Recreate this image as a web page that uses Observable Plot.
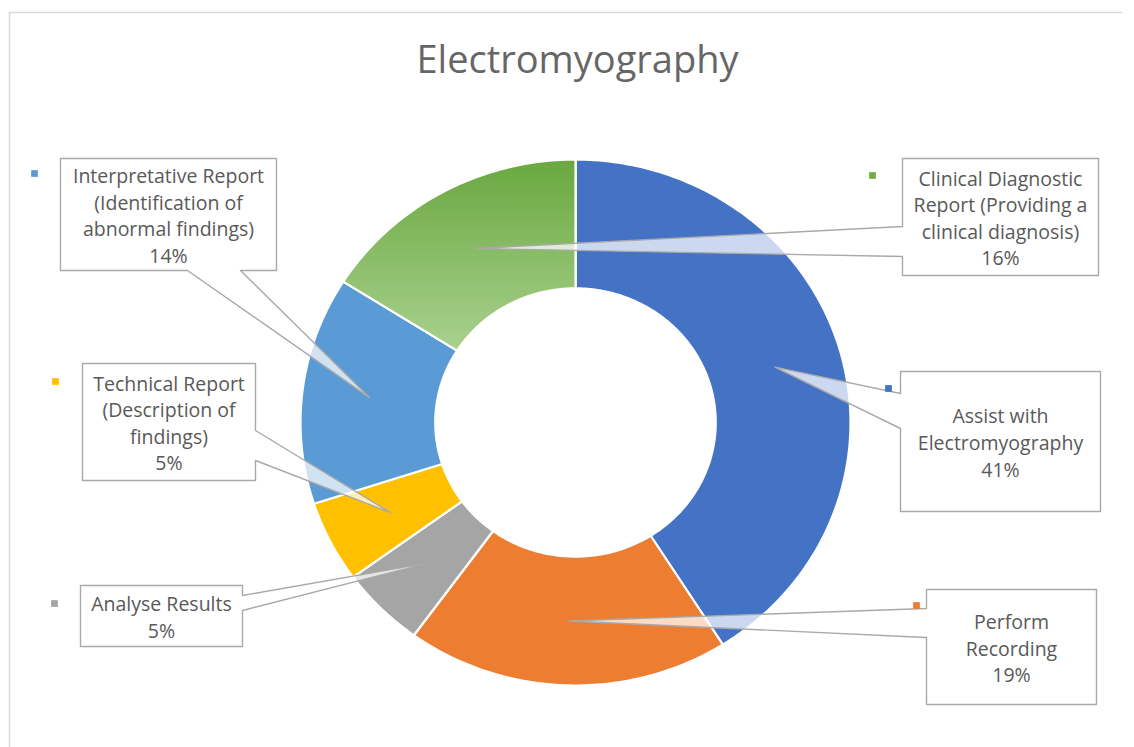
<!DOCTYPE html>
<html>
<head>
<meta charset="utf-8">
<script src="https://cdn.jsdelivr.net/npm/d3@7"></script>
<script src="https://cdn.jsdelivr.net/npm/@observablehq/plot@0.6"></script>
<style>
  html, body { margin: 0; padding: 0; background: #fff; }
  #chart svg { display: block; }
</style>
</head>
<body>
<div id="chart"></div>
<script>
// ---- Data ----
const chartTitle = "Electromyography";
const categories = [
  "Assist with Electromyography",
  "Perform Recording",
  "Analyse Results",
  "Technical Report",
  "Interpretative Report",
  "Clinical Diagnostic Report"
];
const shares = [41, 19, 5, 5, 14, 16];
const labelLines = [
  ["Assist with", "Electromyography"],
  ["Perform", "Recording"],
  ["Analyse Results"],
  ["Technical Report", "(Description of", "findings)"],
  ["Interpretative Report", "(Identification of", "abnormal findings)"],
  ["Clinical Diagnostic", "Report (Providing a", "clinical diagnosis)"]
];

// ---- Styles ----
const sliceColors = ["#4472C4", "#ED7D31", "#A5A5A5", "#FFC000", "#5B9BD5", "#70AD47"];
const fadedSlice = "Clinical Diagnostic Report";

// ---- Layout (pixels) ----
const W = 1134, H = 747;
const cx = 575, cy = 422, rx = 275, ry = 263, hole = 0.51;
// Callout boxes: [x1, y1, x2, y2], the edge the pointer leaves from,
// the span of the pointer base along that edge, and the legend key position.
const callouts = [
  {box: [900, 371, 1100, 511], edge: "left",   tail: [393, 428], key: [888, 388]},
  {box: [926, 589, 1096, 704], edge: "left",   tail: [608, 637], key: [916, 605]},
  {box: [80, 585, 242, 646],   edge: "right",  tail: [595, 610], key: [54, 603]},
  {box: [82, 363, 255, 480],   edge: "right",  tail: [430, 460], key: [55, 381]},
  {box: [60, 158, 276, 270],   edge: "bottom", tail: [187, 240], key: [34, 173]},
  {box: [902, 158, 1098, 275], edge: "left",   tail: [226, 256], key: [872, 175]}
];

// pixel -> data units of the donut's x/y scales
const X = px => (px - cx) / rx;
const Y = py => (cy - py) / ry;

// ---- Slices ----
const arcs = d3.pie().sort(null).startAngle(0).endAngle(2 * Math.PI)(shares);
const slicePts = [];
const anchors = [];
arcs.forEach((a, i) => {
  const cat = categories[i];
  const n = Math.max(6, Math.ceil((a.endAngle - a.startAngle) / (2 * Math.PI) * 360));
  for (let k = 0; k <= n; k++) {
    const t = a.startAngle + (a.endAngle - a.startAngle) * k / n;
    slicePts.push({cat, x: Math.sin(t), y: Math.cos(t)});
  }
  for (let k = n; k >= 0; k--) {
    const t = a.startAngle + (a.endAngle - a.startAngle) * k / n;
    slicePts.push({cat, x: hole * Math.sin(t), y: hole * Math.cos(t)});
  }
  const mid = (a.startAngle + a.endAngle) / 2, rm = (1 + hole) / 2;
  anchors.push({x: rm * Math.sin(mid), y: rm * Math.cos(mid)});
});

// ---- Callout outlines (box with a pointer into the slice) ----
const calloutPts = [];
callouts.forEach((c, i) => {
  const cat = categories[i];
  const [x1, y1, x2, y2] = c.box;
  const [t1, t2] = c.tail;
  const p = (px, py) => calloutPts.push({cat, x: X(px), y: Y(py)});
  const a = () => calloutPts.push({cat, x: anchors[i].x, y: anchors[i].y});
  p(x1, y1); p(x2, y1);
  if (c.edge === "right") { p(x2, t1); a(); p(x2, t2); }
  p(x2, y2);
  if (c.edge === "bottom") { p(t2, y2); a(); p(t1, y2); }
  p(x1, y2);
  if (c.edge === "left") { p(x1, t2); a(); p(x1, t1); }
});

const labels = callouts.map((c, i) => ({
  cat: categories[i],
  x: X((c.box[0] + c.box[2]) / 2),
  y: Y((c.box[1] + c.box[3]) / 2),
  text: labelLines[i].concat([shares[i] + "%"]).join("\n")
}));
const keys = callouts.map((c, i) => ({cat: categories[i], x: X(c.key[0]), y: Y(c.key[1])}));

const chart = Plot.plot({
  width: W,
  height: H,
  margin: 0,
  x: {domain: [-1, 1], range: [cx - rx, cx + rx], axis: null},
  y: {domain: [-1, 1], range: [cy + ry, cy - ry], axis: null},
  color: {domain: categories, range: sliceColors},
  style: {fontFamily: "'Open Sans', sans-serif", background: "#ffffff", overflow: "visible"},
  marks: [
    // chart area border
    Plot.ruleY([Y(12)], {x1: X(9), x2: X(1122), stroke: "#d9d9d9", strokeWidth: 1.5}),
    Plot.ruleX([X(9)], {y1: Y(12), y2: Y(H + 5), stroke: "#d9d9d9", strokeWidth: 1.5}),
    // donut slices
    Plot.line(slicePts, {x: "x", y: "y", z: "cat", fill: "cat", stroke: "white", strokeWidth: 2.2, curve: "linear-closed"}),
    Plot.line(slicePts.filter(d => d.cat === fadedSlice), {x: "x", y: "y", fill: "url(#clinicalFade)", stroke: "white", strokeWidth: 2.2, curve: "linear-closed"}),
    // callouts
    Plot.line(calloutPts, {x: "x", y: "y", z: "cat", fill: "white", fillOpacity: 0.72, stroke: "#a9a9a9", strokeWidth: 1.4, curve: "linear-closed"}),
    Plot.dot(keys, {x: "x", y: "y", fill: "cat", symbol: "square", r: 3.8}),
    Plot.text(labels, {x: "x", y: "y", text: "text", fontSize: 19.5, lineHeight: 1.36, fill: "#595959"}),
    // title
    Plot.text([chartTitle], {x: X(577), y: Y(60), text: d => d, fontSize: 38, fill: "#666666"})
  ]
});

// vertical fade on the clinical diagnosis slice
d3.select(chart).insert("defs", ":first-child").html(
  '<linearGradient id="clinicalFade" x1="0" y1="0" x2="0" y2="1">' +
  '<stop offset="0" stop-color="#69a83f"/>' +
  '<stop offset="1" stop-color="#a9d18f"/>' +
  '</linearGradient>'
);

document.getElementById("chart").appendChild(chart);
</script>
</body>
</html>
